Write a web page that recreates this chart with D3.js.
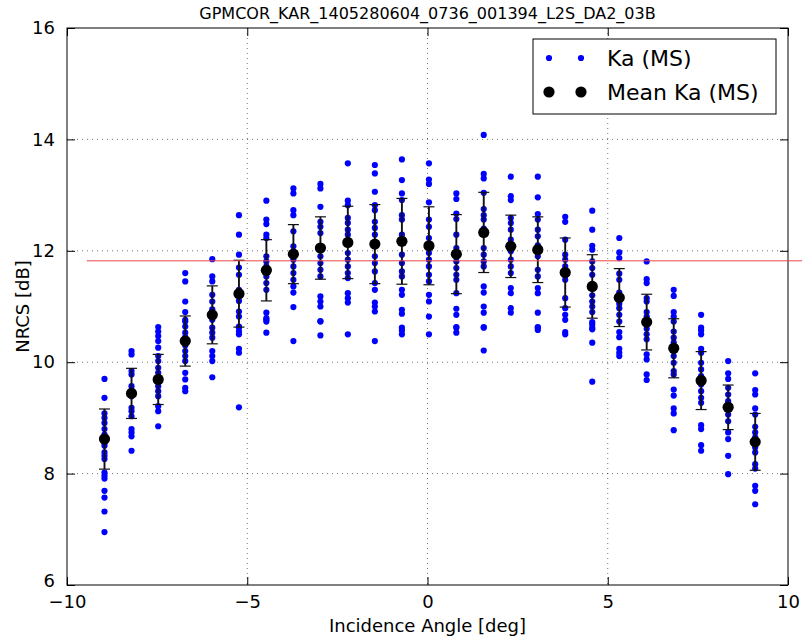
<!DOCTYPE html>
<html>
<head>
<meta charset="utf-8">
<script src="https://cdn.jsdelivr.net/npm/d3@7"></script>
<style>
  body { margin: 0; background: #fff; }
  svg { display: block; font-family: "DejaVu Sans", sans-serif; }
  .grid line { stroke: #000; stroke-opacity: 0.55; stroke-dasharray: 1,4; }
</style>
</head>
<body>
<div id="chart"></div>
<script>
// incidence angle of each column [deg]
var angles = [-8.96, -8.21, -7.47, -6.72, -5.97, -5.23, -4.47, -3.72, -2.97, -2.21, -1.46, -0.71, 0.04,
              0.80, 1.56, 2.31, 3.06, 3.82, 4.57, 5.32, 6.08, 6.83, 7.59, 8.34, 9.09];

// Ka (MS) samples per column [dB]
var kaSamples = [
  [9.70, 9.36, 9.08, 9.00, 8.91, 8.80, 8.65, 8.55, 8.70, 8.50, 8.38, 8.32, 8.26, 8.02, 7.96, 7.91, 7.69, 7.57, 7.32, 6.95],
  [10.20, 10.14, 9.84, 9.78, 9.57, 9.50, 9.48, 9.42, 9.39, 9.18, 9.12, 9.03, 8.80, 8.74, 8.67, 8.41],
  [10.63, 10.55, 10.47, 10.38, 10.26, 10.11, 10.02, 9.90, 9.81, 9.70, 9.65, 9.57, 9.48, 9.39, 9.21, 9.12, 8.85],
  [11.60, 11.45, 11.09, 10.90, 10.76, 10.73, 10.64, 10.53, 10.45, 10.40, 10.30, 10.20, 10.11, 10.02, 9.81, 9.69, 9.54, 9.48],
  [11.85, 11.54, 11.45, 11.21, 11.09, 10.95, 10.91, 10.85, 10.76, 10.62, 10.53, 10.44, 10.20, 10.11, 10.02, 9.73],
  [12.64, 12.29, 11.93, 11.70, 11.57, 11.30, 11.20, 11.10, 10.91, 10.82, 10.64, 10.62, 10.55, 10.50, 10.24, 10.17, 9.19],
  [12.90, 12.56, 12.48, 12.29, 12.23, 11.90, 11.81, 11.72, 11.65, 11.54, 11.42, 11.30, 10.89, 10.79, 10.76, 10.73, 10.53],
  [13.12, 13.03, 12.73, 12.64, 12.35, 12.08, 11.99, 11.94, 11.84, 11.72, 11.60, 11.48, 11.36, 11.25, 10.99, 10.38],
  [13.20, 13.12, 12.79, 12.52, 12.43, 12.32, 12.08, 12.02, 11.90, 11.78, 11.66, 11.54, 11.18, 11.09, 11.00, 10.74, 10.73, 10.48],
  [13.57, 12.90, 12.82, 12.59, 12.50, 12.38, 12.29, 12.15, 11.96, 11.84, 11.72, 11.60, 11.51, 11.24, 11.15, 11.07, 10.50],
  [13.54, 13.39, 13.06, 12.82, 12.73, 12.52, 12.41, 12.29, 12.12, 11.90, 11.78, 11.63, 11.42, 11.30, 11.07, 11.00, 10.91, 10.38],
  [13.64, 13.27, 13.03, 12.91, 12.64, 12.56, 12.29, 12.17, 11.93, 11.78, 11.63, 11.54, 11.30, 11.21, 10.94, 10.87, 10.62, 10.57, 10.50],
  [13.57, 13.28, 13.20, 12.87, 12.56, 12.43, 12.23, 12.09, 11.96, 11.84, 11.72, 11.57, 11.45, 11.21, 11.09, 10.82, 10.50],
  [13.03, 12.93, 12.67, 12.57, 12.29, 12.05, 11.95, 11.81, 11.69, 11.57, 11.48, 11.24, 10.96, 10.85, 10.63, 10.62, 10.53],
  [14.08, 13.38, 13.30, 13.04, 12.75, 12.64, 12.56, 12.40, 12.30, 12.05, 11.93, 11.81, 11.72, 11.36, 11.25, 11.00, 10.89, 10.63, 10.62, 10.21],
  [13.33, 12.98, 12.91, 12.59, 12.50, 12.38, 12.20, 12.10, 11.99, 11.84, 11.72, 11.60, 11.33, 11.24, 10.97, 10.89],
  [13.33, 12.96, 12.66, 12.56, 12.38, 12.26, 12.10, 12.02, 11.90, 11.66, 11.54, 11.33, 11.24, 10.89, 10.63, 10.62, 10.58],
  [12.61, 12.52, 12.20, 11.93, 11.84, 11.72, 11.65, 11.60, 11.55, 11.48, 11.15, 10.97, 10.85, 10.76, 10.54, 10.50],
  [12.72, 12.38, 12.09, 12.02, 11.81, 11.69, 11.57, 11.40, 11.35, 11.20, 11.09, 11.00, 10.90, 10.72, 10.68, 10.62, 10.59, 10.35, 9.65],
  [12.23, 11.97, 11.87, 11.59, 11.48, 11.25, 11.15, 11.05, 10.97, 10.85, 10.73, 10.54, 10.45, 10.24, 10.17, 10.11],
  [11.81, 11.49, 11.42, 11.15, 11.09, 10.90, 10.82, 10.70, 10.60, 10.50, 10.41, 10.14, 10.05, 9.78, 9.68],
  [11.30, 11.19, 10.90, 10.82, 10.73, 10.55, 10.44, 10.35, 10.25, 10.20, 10.11, 9.99, 9.84, 9.78, 9.51, 9.40, 9.17, 9.08, 8.78],
  [10.85, 10.62, 10.57, 10.50, 10.24, 10.17, 9.99, 9.87, 9.75, 9.70, 9.60, 9.48, 9.36, 9.27, 8.87, 8.80, 8.51, 8.41],
  [10.02, 9.80, 9.70, 9.54, 9.42, 9.30, 9.25, 9.20, 9.15, 9.06, 8.94, 8.74, 8.62, 8.32, 7.99],
  [9.80, 9.50, 9.42, 9.17, 9.06, 8.84, 8.74, 8.65, 8.60, 8.55, 8.47, 8.38, 8.17, 8.09, 7.78, 7.69, 7.45]
];

// Mean Ka (MS) and its standard deviation per column [dB]
var kaMean = [8.62, 9.44, 9.69, 10.38, 10.85, 11.23, 11.65, 11.94, 12.05, 12.15, 12.12, 12.17, 12.09,
              11.94, 12.33, 12.08, 12.02, 11.61, 11.36, 11.16, 10.72, 10.25, 9.67, 9.19, 8.57];
var kaStd = [0.54, 0.45, 0.45, 0.45, 0.52, 0.60, 0.55, 0.53, 0.56, 0.65, 0.71, 0.77, 0.70,
             0.71, 0.72, 0.56, 0.59, 0.62, 0.57, 0.52, 0.50, 0.53, 0.52, 0.40, 0.51];

var overallMean = 11.82;
var refLineRange = [-9.45, 10.6];

var xTicks = [-10, -5, 0, 5, 10];
var yTicks = [6, 8, 10, 12, 14, 16];
var titleText = "GPMCOR_KAR_1405280604_0736_001394_L2S_DA2_03B";
var legendLabels = ["Ka (MS)", "Mean Ka (MS)"];

var width = 802, height = 640;
var margin = { top: 28, right: 14, bottom: 55, left: 67 };
var plotW = width - margin.left - margin.right;
var plotH = height - margin.top - margin.bottom;

var svg = d3.select("#chart").append("svg")
  .attr("width", width)
  .attr("height", height);

svg.append("rect").attr("width", width).attr("height", height).attr("fill", "#fff");

var g = svg.append("g")
  .attr("transform", "translate(" + margin.left + "," + margin.top + ")");

var x = d3.scaleLinear().domain([-10, 10]).range([0, plotW]);
var y = d3.scaleLinear().domain([6, 16]).range([plotH, 0]);

// grid
g.append("g").attr("class", "grid")
  .selectAll("line.v").data(xTicks.slice(1, -1)).enter().append("line")
  .attr("x1", d => x(d)).attr("x2", d => x(d)).attr("y1", 0).attr("y2", plotH);
g.append("g").attr("class", "grid")
  .selectAll("line.h").data(yTicks.slice(1, -1)).enter().append("line")
  .attr("y1", d => y(d)).attr("y2", d => y(d)).attr("x1", 0).attr("x2", plotW);

// samples
var flat = [];
kaSamples.forEach(function (col, i) {
  col.forEach(function (v) { flat.push([angles[i], v]); });
});
g.append("g").selectAll("circle").data(flat).enter().append("circle")
  .attr("cx", d => x(d[0])).attr("cy", d => y(d[1]))
  .attr("r", 3.1).attr("fill", "#0000ff");

// error bars
var eb = g.append("g").attr("stroke", "#111").attr("stroke-width", 1.9);
angles.forEach(function (a, i) {
  var lo = y(kaMean[i] - kaStd[i]), hi = y(kaMean[i] + kaStd[i]), cx = x(a);
  eb.append("line").attr("x1", cx).attr("x2", cx).attr("y1", lo).attr("y2", hi);
  eb.append("line").attr("x1", cx - 5.5).attr("x2", cx + 5.5).attr("y1", lo).attr("y2", lo).attr("stroke-width", 1.2);
  eb.append("line").attr("x1", cx - 5.5).attr("x2", cx + 5.5).attr("y1", hi).attr("y2", hi).attr("stroke-width", 1.2);
});

// means
g.append("g").selectAll("circle").data(angles).enter().append("circle")
  .attr("cx", d => x(d)).attr("cy", (d, i) => y(kaMean[i]))
  .attr("r", 5.6).attr("fill", "#000");

// overall mean reference line (not clipped)
svg.append("line")
  .attr("x1", margin.left + x(refLineRange[0])).attr("x2", margin.left + x(refLineRange[1]))
  .attr("y1", margin.top + y(overallMean)).attr("y2", margin.top + y(overallMean))
  .attr("stroke", "#e8474a").attr("stroke-width", 1);

// frame
g.append("rect").attr("width", plotW).attr("height", plotH)
  .attr("fill", "none").attr("stroke", "#000").attr("stroke-width", 1);

// axes with inward ticks on all four sides
var tickLen = 8;
var xb = g.append("g").attr("transform", "translate(0," + plotH + ")")
  .call(d3.axisBottom(x).tickValues(xTicks).tickSizeInner(-tickLen).tickSizeOuter(0).tickPadding(10));
var xt = g.append("g")
  .call(d3.axisTop(x).tickValues(xTicks).tickSizeInner(-tickLen).tickSizeOuter(0).tickFormat(""));
var yl = g.append("g")
  .call(d3.axisLeft(y).tickValues(yTicks).tickSizeInner(-tickLen).tickSizeOuter(0).tickPadding(12));
var yr = g.append("g").attr("transform", "translate(" + plotW + ",0)")
  .call(d3.axisRight(y).tickValues(yTicks).tickSizeInner(-tickLen).tickSizeOuter(0).tickFormat(""));
[xb, xt, yl, yr].forEach(function (ax) {
  ax.select(".domain").remove();
  ax.selectAll(".tick line").attr("stroke", "#000");
  ax.selectAll("text").attr("font-family", "DejaVu Sans").attr("font-size", 18).attr("fill", "#000");
});
xb.selectAll("text").text(d => d < 0 ? "\u2212" + Math.abs(d) : d);
// lift the lowest y label a little, as in the reference, so it clears "−10"
yl.selectAll(".tick text").filter(d => d === 6).attr("dy", "0.1em");

// title and axis labels
svg.append("text").attr("x", margin.left + plotW / 2).attr("y", 19)
  .attr("text-anchor", "middle").attr("font-size", 16).text(titleText);
svg.append("text").attr("x", margin.left + plotW / 2).attr("y", 632)
  .attr("text-anchor", "middle").attr("font-size", 18).text("Incidence Angle [deg]");
svg.append("text").attr("transform", "translate(29," + (margin.top + plotH / 2) + ") rotate(-90)")
  .attr("text-anchor", "middle").attr("font-size", 18).text("NRCS [dB]");

// legend
var lg = svg.append("g").attr("transform", "translate(533,39)");
lg.append("rect").attr("width", 243).attr("height", 75)
  .attr("fill", "#fff").attr("stroke", "#000").attr("stroke-width", 1);
[16, 48].forEach(function (mx) {
  lg.append("circle").attr("cx", mx).attr("cy", 19).attr("r", 3.1).attr("fill", "#0000ff");
  lg.append("circle").attr("cx", mx).attr("cy", 53).attr("r", 5.6).attr("fill", "#000");
});
lg.selectAll("text.lab").data(legendLabels).enter().append("text")
  .attr("x", 74).attr("y", (d, i) => 27 + i * 34)
  .attr("font-size", 22).text(d => d);
</script>
</body>
</html>
